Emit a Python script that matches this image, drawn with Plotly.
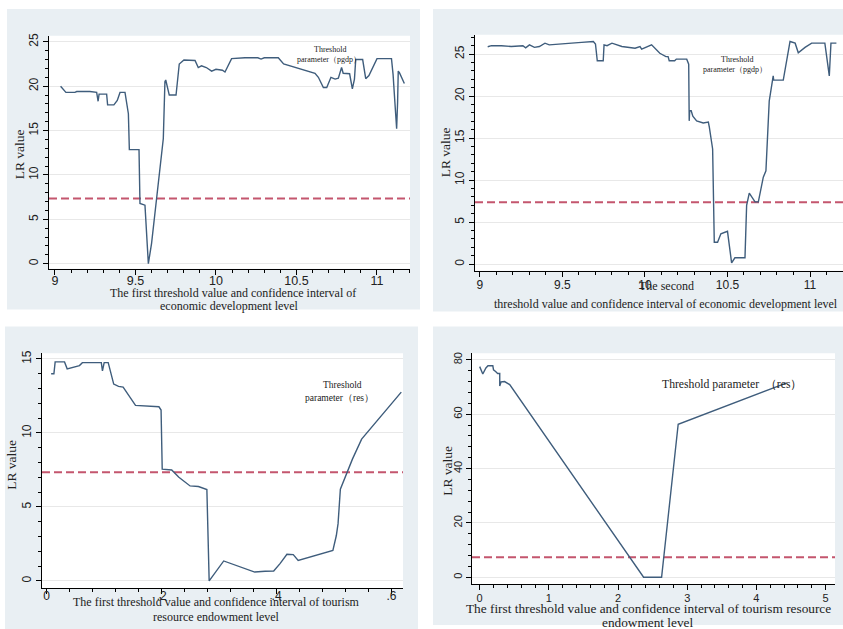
import plotly.graph_objects as go

W, H = 843, 629

# ---------------- data ----------------
# Panel 1: first threshold, economic development level (pgdp)
p1_x = [9.035, 9.068, 9.124, 9.135, 9.217, 9.259, 9.268, 9.274, 9.321, 9.327, 9.366, 9.387,
        9.404, 9.435, 9.456, 9.462, 9.522, 9.528, 9.559, 9.580, 9.600, 9.673, 9.683, 9.688,
        9.710, 9.752, 9.772, 9.801, 9.870, 9.890, 9.910, 9.940, 9.973, 10.000, 10.040, 10.056,
        10.097, 10.180, 10.260, 10.280, 10.300, 10.387, 10.420, 10.615, 10.636, 10.667, 10.688,
        10.714, 10.740, 10.760, 10.780, 10.790, 10.830, 10.847, 10.860, 10.868, 10.911, 10.930,
        10.950, 11.000, 11.090, 11.100, 11.110, 11.116, 11.122, 11.128, 11.132, 11.140, 11.170]
p1_lr = [20.0, 19.3, 19.3, 19.4, 19.4, 19.3, 18.3, 19.1, 19.1, 17.9, 17.9, 18.4,
         19.3, 19.3, 16.9, 12.85, 12.85, 6.8, 6.6, 0.0, 2.3, 14.1, 20.5, 20.7,
         19.0, 19.0, 22.5, 22.95, 22.9, 22.1, 22.3, 22.1, 21.7, 21.9, 21.8, 21.6,
         23.1, 23.2, 23.2, 23.05, 23.2, 23.2, 22.5, 21.45, 21.0, 19.85, 19.85,
         21.0, 20.8, 20.9, 22.1, 21.45, 21.4, 19.7, 20.8, 23.0, 23.0, 20.85,
         21.2, 23.1, 23.1, 21.3, 18.5, 17.0, 15.2, 18.2, 21.7, 21.5, 20.3]

# Panel 2: second threshold, economic development level (pgdp)
p2_x = [9.047, 9.07, 9.13, 9.19, 9.26, 9.277, 9.30, 9.33, 9.36, 9.394, 9.42, 9.47, 9.556,
        9.616, 9.687, 9.70, 9.711, 9.747, 9.752, 9.77, 9.785, 9.80, 9.86, 9.94, 9.97, 9.98,
        10.04, 10.09, 10.127, 10.14, 10.147, 10.18, 10.19, 10.253, 10.265, 10.268, 10.271,
        10.28, 10.29, 10.313, 10.353, 10.384, 10.39, 10.41, 10.42, 10.44, 10.46, 10.50,
        10.525, 10.545, 10.606, 10.616, 10.632, 10.667, 10.687, 10.717, 10.733, 10.753,
        10.777, 10.78, 10.838, 10.879, 10.90, 10.91, 10.929, 10.97, 11.01, 11.09, 11.117,
        11.127, 11.16]
p2_lr = [25.87, 26.0, 26.0, 25.9, 26.0, 25.75, 26.1, 25.8, 25.9, 26.3, 26.1, 26.2, 26.3,
         26.4, 26.5, 26.2, 24.2, 24.2, 26.1, 26.0, 26.2, 26.3, 25.9, 25.7, 25.9, 25.6,
         26.1, 25.1, 24.7, 24.7, 24.2, 24.2, 24.4, 24.4, 23.8, 17.05, 18.25,
         18.25, 17.6, 17.05, 16.8, 16.9, 16.3, 13.7, 2.6, 2.6, 3.6, 3.9,
         0.15, 0.75, 0.75, 7.0, 8.45, 7.4, 7.4, 10.35, 11.1, 19.4,
         22.4, 21.9, 21.9, 26.5, 26.3, 26.3, 25.15, 25.8, 26.3, 26.3, 22.4,
         26.3, 26.3]

# Panel 3: first threshold, tourism resource endowment level (res)
p3_x = [0.0077, 0.0125, 0.0147, 0.031, 0.0356, 0.057, 0.062, 0.095, 0.097, 0.100, 0.107,
        0.1166, 0.125, 0.133, 0.1545, 0.176, 0.1953, 0.199, 0.201, 0.2175, 0.23, 0.2495,
        0.264, 0.2787, 0.2827, 0.308, 0.362, 0.38, 0.395, 0.406, 0.418, 0.429, 0.4376,
        0.498, 0.504, 0.507, 0.511, 0.532, 0.548, 0.617]
p3_lr = [14.0, 14.0, 14.8, 14.8, 14.33, 14.55, 14.75, 14.75, 14.2, 14.75, 14.75,
         13.3, 13.15, 13.1, 11.86, 11.83, 11.77, 11.55, 7.55, 7.5, 7.0, 6.42,
         6.38, 6.18, 0.0, 1.35, 0.6, 0.65, 0.67, 1.17, 1.8, 1.78, 1.39,
         2.06, 3.07, 3.87, 6.2, 8.23, 9.58, 12.76]

# Panel 4: first threshold, tourism resource endowment level (res)
p4_x = [0.0, 0.045, 0.09, 0.12, 0.19, 0.20, 0.23, 0.26, 0.29, 0.29, 0.31, 0.36, 0.434,
        2.37, 2.63, 2.87, 4.44]
p4_lr = [77.5, 74.8, 77.0, 77.8, 77.8, 76.3, 75.7, 75.0, 75.0, 70.4, 71.9, 72.0, 70.9,
         0.0, 0.0, 56.3, 71.5]

crit_value = 7.35  # LR critical value (dashed line)

p1_xticks = [9, 9.5, 10, 10.5, 11]
p1_xlabels = ["9", "9.5", "10", "10.5", "11"]
p1_yticks = [0, 5, 10, 15, 20, 25]
p2_xticks = [9, 9.5, 10, 10.5, 11]
p2_xlabels = ["9", "9.5", "10", "10.5", "11"]
p2_yticks = [0, 5, 10, 15, 20, 25]
p3_xticks = [0, 0.2, 0.4, 0.6]
p3_xlabels = ["0", ".2", ".4", ".6"]
p3_yticks = [0, 5, 10, 15]
p4_xticks = [0, 1, 2, 3, 4, 5]
p4_xlabels = ["0", "1", "2", "3", "4", "5"]
p4_yticks = [0, 20, 40, 60, 80]

title_p1 = ["The first threshold value and confidence interval of", "economic development level"]
title_p2 = ["The second", "threshold value and confidence interval of economic development level"]
title_p3 = ["The first threshold value and confidence interval of tourism", "resource endowment level"]
title_p4 = ["The first threshold value and confidence interval of tourism resource", "endowment level"]
ytitle = "LR value"

# ---------------- styling / layout ----------------
LINE_COLOR = "#3f5d7c"
CRIT_COLOR = "#c4566e"
BG_COLOR = "#e9eff3"
GRID_COLOR = "#e8e8e8"
SANS = "Liberation Sans, Arial, sans-serif"
SERIF = "Liberation Serif, Times New Roman, serif"


def fx(px):
    return px / W


def fy(py):
    return 1 - py / H


panels = [
    dict(x=p1_x, y=p1_lr, xd=(49, 410), yd=(33, 267), xr=[8.963, 11.205], yr=[-0.56, 25.67],
         xt=p1_xticks, xl=p1_xlabels, yt=p1_yticks, xminor=0.1, x0=9, yminor=1, xfs=12.5, yfs=12,
         xso=-5),
    dict(x=p2_x, y=p2_lr, xd=(475, 843), yd=(32, 269), xr=[8.97, 11.2], yr=[-0.79, 27.29],
         xt=p2_xticks, xl=p2_xlabels, yt=p2_yticks, xminor=0.1, x0=9, yminor=1, xfs=12, yfs=12,
         xso=-2),
    dict(x=p3_x, y=p3_lr, xd=(42, 403), yd=(352, 588), xr=[-0.0082, 0.62], yr=[-0.49, 15.38],
         xt=p3_xticks, xl=p3_xlabels, yt=p3_yticks, xminor=0.04, x0=0, yminor=1, xfs=12, yfs=12,
         xso=-9),
    dict(x=p4_x, y=p4_lr, xd=(472, 835), yd=(352, 584), xr=[-0.111, 5.137], yr=[-2.56, 82.4],
         xt=p4_xticks, xl=p4_xlabels, yt=p4_yticks, xminor=0.2, x0=0, yminor=4, xfs=11, yfs=11,
         xso=-1),
]

fig = go.Figure()
layout = dict(
    width=W, height=H,
    margin=dict(l=0, r=0, t=0, b=0),
    paper_bgcolor="white",
    plot_bgcolor="white",
    showlegend=False,
)

shapes = []
for (x0, y0, x1, y1) in [(7, 6, 420, 308), (433, 6, 843, 310), (5, 325, 418, 629), (433, 325, 843, 625)]:
    shapes.append(dict(type="rect", xref="paper", yref="paper", x0=fx(x0), x1=fx(x1),
                       y0=fy(y1), y1=fy(y0), fillcolor=BG_COLOR, line=dict(width=0), layer="below"))

for i, p in enumerate(panels, start=1):
    sfx = "" if i == 1 else str(i)
    xa, ya = "x" + sfx, "y" + sfx
    fig.add_trace(go.Scatter(x=p["x"], y=p["y"], mode="lines", xaxis=xa, yaxis=ya,
                             line=dict(color=LINE_COLOR, width=1.4), hoverinfo="x+y"))
    layout["xaxis" + sfx] = dict(
        domain=[fx(p["xd"][0]), fx(p["xd"][1])], range=p["xr"], anchor=ya,
        tickmode="array", tickvals=p["xt"], ticktext=p["xl"],
        showline=True, linecolor="black", linewidth=1, mirror=False,
        ticks="outside", ticklen=5, tickwidth=1, tickcolor="black",
        ticklabelstandoff=p["xso"],
        showgrid=False, zeroline=False,
        minor=dict(dtick=p["xminor"], tick0=p["x0"], ticks="outside", ticklen=3,
                   tickcolor="black", showgrid=False),
        tickfont=dict(family=SANS, size=p["xfs"], color="#222"),
    )
    layout["yaxis" + sfx] = dict(
        domain=[fy(p["yd"][1]), fy(p["yd"][0])], range=p["yr"], anchor=xa,
        tickmode="array", tickvals=p["yt"], ticktext=[str(v) for v in p["yt"]],
        tickangle=-90,
        showline=True, linecolor="black", linewidth=1,
        ticks="outside", ticklen=5, tickwidth=1, tickcolor="black",
        showgrid=True, gridcolor=GRID_COLOR, gridwidth=1, zeroline=False,
        minor=dict(dtick=p["yminor"], tick0=0, ticks="outside", ticklen=3,
                   tickcolor="black", showgrid=False),
        tickfont=dict(family=SANS, size=p["yfs"], color="#222"),
    )
    shapes.append(dict(type="rect", xref=xa + " domain", yref=ya + " domain", x0=0, x1=1, y0=0, y1=1,
                       fillcolor="white", line=dict(width=0), layer="below"))
    shapes.append(dict(type="line", xref=xa + " domain", yref=ya, x0=0, x1=1,
                       y0=crit_value, y1=crit_value,
                       line=dict(color=CRIT_COLOR, width=2, dash="8px,4px"), layer="below"))

layout["shapes"] = shapes

ann = []


def txt(text, px, py, size, family=SERIF, angle=0, xanchor="center"):
    ann.append(dict(text=text, x=fx(px), y=fy(py), xref="paper", yref="paper",
                    showarrow=False, xanchor=xanchor, yanchor="middle", textangle=angle,
                    font=dict(family=family, size=size, color="#222")))


txt(title_p1[0], 233, 291, 12)
txt(title_p1[1], 229, 304, 12)
txt(title_p2[0], 666, 284, 12)
txt(title_p2[1], 666, 302, 12)
txt(title_p3[0], 216, 602, 12)
txt(title_p3[1], 216, 617, 12)
txt(title_p4[0], 648, 608, 13.3)
txt(title_p4[1], 648, 622, 13.3)

txt(ytitle, 19, 152, 13.5, angle=-90)
txt(ytitle, 445, 150, 13.5, angle=-90)
txt(ytitle, 12, 464, 13.5, angle=-90)
txt(ytitle, 448, 470, 13.5, angle=-90)


def dtxt(text, x, y, xa, ya, size, xanchor="center"):
    ann.append(dict(text=text, x=x, y=y, xref=xa, yref=ya, showarrow=False,
                    xanchor=xanchor, yanchor="middle",
                    font=dict(family=SERIF, size=size, color="#222")))


dtxt("Threshold", 10.71, 24.1, "x", "y", 8)
dtxt("parameter（pgdp）", 10.70, 22.98, "x", "y", 8)
dtxt("Threshold", 10.556, 24.3, "x2", "y2", 8)
dtxt("parameter（pgdp）", 10.546, 23.2, "x2", "y2", 8)
dtxt("Threshold", 0.514, 13.23, "x3", "y3", 9.5)
dtxt("parameter（res）", 0.51, 12.37, "x3", "y3", 9.5)
dtxt("Threshold parameter  （res）", 2.605, 70.9, "x4", "y4", 11.7, xanchor="left")

layout["annotations"] = ann
fig.update_layout(**layout)
fig.write_html(
    "out.html",
    config={"displayModeBar": False},
    post_script="document.body.style.margin='0px';document.body.style.padding='0px';"
                "document.body.style.overflow='hidden';",
)
